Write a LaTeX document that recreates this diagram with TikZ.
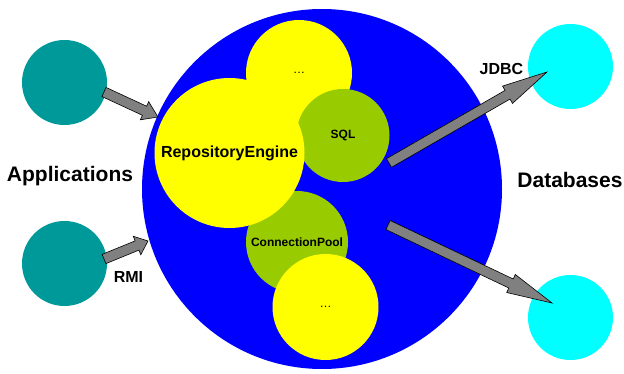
\documentclass[tikz,border=0pt]{standalone}
\usepackage{fontspec}
\setmainfont{Liberation Sans}
\usetikzlibrary{calc}
\usetikzlibrary{positioning}
\definecolor{appteal}{HTML}{009999}
\definecolor{dbcyan}{HTML}{00FFFF}
\definecolor{corgreen}{HTML}{99CC00}
\definecolor{coryellow}{HTML}{FFFF00}
\definecolor{corblue}{HTML}{0000FF}
\tikzstyle{disc} = [circle, inner sep=0pt, align=center,
font=\bfseries\fontsize{16}{18}\selectfont]
\tikzstyle{part} = [disc, font=\bfseries\fontsize{12}{14}\selectfont]
\tikzstyle{caption} = [font=\bfseries\fontsize{21}{24}\selectfont]
\tikzstyle{arrowbody} = [draw=black, fill=gray, line width=0.6pt, line join=miter]
% block arrow from tail #1 to tip #2, head is a quarter of the length
\newcommand{\blockarrow}[2]{%
  \coordinate (head) at ($(#2)!0.25!(#1)$);
  \filldraw[arrowbody] ($(#1)!5pt!90:(#2)$) -- ($(head)!5pt!90:(#2)$)
    -- ($(head)!10pt!90:(#2)$) -- (#2) -- ($(head)!10pt!-90:(#2)$)
    -- ($(head)!5pt!-90:(#2)$) -- ($(#1)!5pt!-90:(#2)$) -- cycle;
}

\begin{document}
\begin{tikzpicture}[x=1pt, y=1pt]
\useasboundingbox (0,0) rectangle (624,373);
% the repository
\node[disc, fill=corblue, minimum size=360] (core) at (322,184) {};
\node[part, fill=coryellow, minimum size=106] (moreA) at (299,300) {\mdseries\dots};
\node[part, fill=corgreen, minimum size=93] (sql) at (343,237.5) {SQL};
\node[part, fill=corgreen, minimum size=102] (pool) at (297,131) {ConnectionPool};
\node[disc, fill=coryellow, minimum size=150] (engine) at (229.5,220) {RepositoryEngine};
\node[part, fill=coryellow, minimum size=106] (moreB) at (325.5,66) {\mdseries\dots};

% clients and stores
\node[disc, fill=appteal, minimum size=85] (app1) at (64.5,290.5) {};
\node[disc, fill=appteal, minimum size=85] (app2) at (64.5,109.5) {};
\node[disc, fill=dbcyan, minimum size=85] (db1) at (570.5,306.5) {};
\node[disc, fill=dbcyan, minimum size=85] (db2) at (570.5,55.5) {};

\node[caption] (apps) at (70,197) {Applications};
\node[caption] (dbs) at (570,193) {Databases};
\node[font=\bfseries\fontsize{16}{18}\selectfont] (jdbc) at (501.5,304) {JDBC};
\node[font=\bfseries\fontsize{16}{18}\selectfont] (rmi) at (128.5,96) {RMI};

% arrow ends
\coordinate (app1 out) at (104,281);
\coordinate (app1 in) at (158,256);
\coordinate (app2 out) at (104,114);
\coordinate (app2 in) at (148,132);
\coordinate (sql out) at (389,210);
\coordinate (db1 in) at (547,301);
\coordinate (pool out) at (388,148);
\coordinate (db2 in) at (552,70);

\blockarrow{app1 out}{app1 in}
\blockarrow{app2 out}{app2 in}
\blockarrow{sql out}{db1 in}
\blockarrow{pool out}{db2 in}
\end{tikzpicture}
\end{document}
